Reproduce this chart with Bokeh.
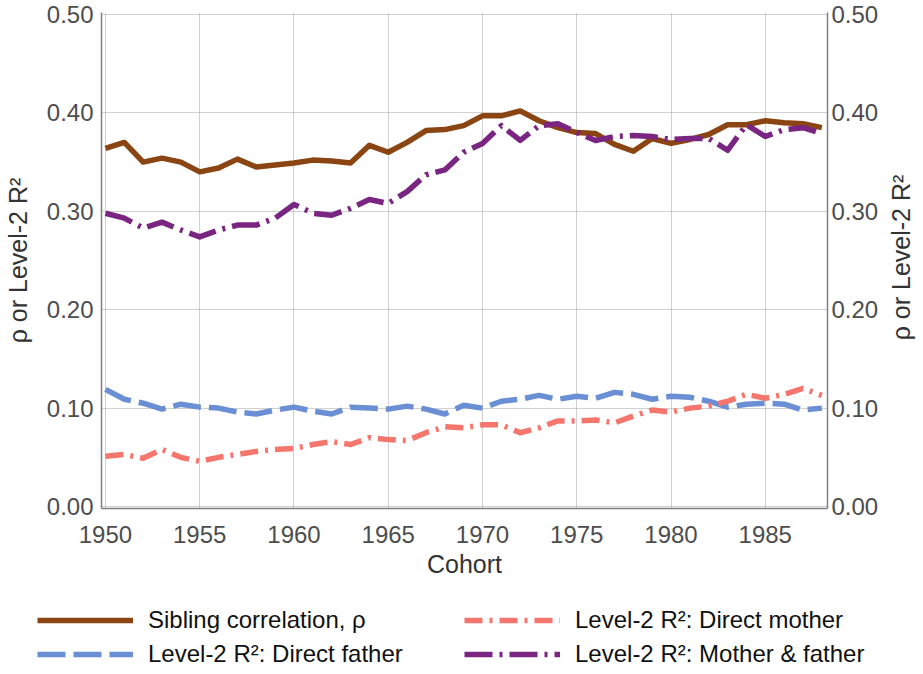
import math
from bokeh.plotting import figure
from bokeh.layouts import column, row
from bokeh.models import Legend, LegendItem, LinearAxis, FixedTicker, Range1d, Label
from bokeh.embed import file_html
from bokeh.resources import INLINE

years = list(range(1950, 1989))
sibling = [0.364, 0.370, 0.350, 0.354, 0.350, 0.340, 0.344, 0.353, 0.345, 0.347,
           0.349, 0.352, 0.351, 0.349, 0.367, 0.360, 0.370, 0.382, 0.383, 0.387,
           0.397, 0.397, 0.402, 0.392, 0.385, 0.380, 0.379, 0.368, 0.361, 0.374,
           0.369, 0.373, 0.378, 0.388, 0.388, 0.392, 0.390, 0.389, 0.385]
father = [0.119, 0.109, 0.105, 0.099, 0.104, 0.101, 0.100, 0.096, 0.094, 0.098,
          0.101, 0.097, 0.094, 0.101, 0.100, 0.099, 0.102, 0.099, 0.094, 0.103,
          0.100, 0.107, 0.109, 0.113, 0.109, 0.112, 0.110, 0.116, 0.114, 0.109,
          0.112, 0.111, 0.107, 0.101, 0.104, 0.105, 0.104, 0.098, 0.100]
mother = [0.051, 0.053, 0.049, 0.058, 0.050, 0.046, 0.050, 0.053, 0.056, 0.058,
          0.059, 0.063, 0.066, 0.063, 0.070, 0.068, 0.067, 0.075, 0.081, 0.080,
          0.083, 0.083, 0.075, 0.080, 0.087, 0.087, 0.088, 0.085, 0.092, 0.098,
          0.096, 0.100, 0.102, 0.107, 0.114, 0.110, 0.114, 0.120, 0.113]
both = [0.298, 0.293, 0.283, 0.289, 0.281, 0.274, 0.281, 0.286, 0.286, 0.293,
        0.307, 0.298, 0.296, 0.303, 0.312, 0.308, 0.320, 0.337, 0.342, 0.360,
        0.369, 0.387, 0.372, 0.387, 0.389, 0.380, 0.372, 0.376, 0.377, 0.376,
        0.373, 0.374, 0.374, 0.362, 0.388, 0.376, 0.383, 0.385, 0.379]

series_names = ["Sibling correlation, \u03c1",
                "Level-2 R\u00b2: Direct father",
                "Level-2 R\u00b2: Direct mother",
                "Level-2 R\u00b2: Mother & father"]
x_ticks = [1950, 1955, 1960, 1965, 1970, 1975, 1980, 1985]
y_ticks = [0.0, 0.1, 0.2, 0.3, 0.4, 0.5]
y_tick_labels = ["0.00", "0.10", "0.20", "0.30", "0.40", "0.50"]
x_title = "Cohort"
y_title = "\u03c1 or Level-2 R\u00b2"

FONT = "Liberation Sans"
TICK_COLOR = "#4d4d4d"
TITLE_COLOR = "#333333"

styles = [
    dict(color="#8b4513", dash="solid"),
    dict(color="#6a8fd4", dash="28 8"),
    dict(color="#f4766c", dash="18 7 3 7"),
    dict(color="#7b2583", dash="28 7 3 7"),
]
data = [sibling, father, mother, both]

# ---------------- main chart ----------------
P_TOP, P_BOTTOM, P_LEFT, P_RIGHT = 12, 84, 92, 57
FW, FH = 726, 496
p = figure(frame_width=FW, frame_height=FH,
           x_range=Range1d(1949.79, 1988.3), y_range=Range1d(-0.002, 0.502),
           output_backend="svg", toolbar_location=None,
           min_border_left=P_LEFT, min_border_right=P_RIGHT, min_border_top=P_TOP,
           min_border_bottom=P_BOTTOM)
p.outline_line_color = None

for vals, st in zip(data, styles):
    p.line(years, vals, line_color=st["color"], line_width=5.5,
           line_dash=st["dash"], line_cap="butt", line_join="round")

ylabels = {v: l for v, l in zip(y_ticks, y_tick_labels)}

p.add_layout(LinearAxis(), "right")
for ax in p.yaxis:
    ax.ticker = FixedTicker(ticks=y_ticks)
    ax.major_label_overrides = ylabels
p.yaxis[0].axis_label = y_title
for ax in p.xaxis:
    ax.ticker = FixedTicker(ticks=x_ticks)
    ax.axis_label = x_title

for ax in p.axis:
    ax.axis_line_color = "#808080"
    ax.axis_line_width = 1.5
    ax.major_tick_line_color = None
    ax.minor_tick_line_color = None
    ax.major_tick_out = 0
    ax.major_tick_in = 0
    ax.major_label_text_font = FONT
    ax.major_label_text_font_size = "24px"
    ax.major_label_text_color = TICK_COLOR
    ax.axis_label_text_font = FONT
    ax.axis_label_text_font_size = "25px"
    ax.axis_label_text_font_style = "normal"
    ax.axis_label_text_color = TITLE_COLOR

p.xaxis.major_label_standoff = 17
p.xaxis.axis_label_standoff = 4
p.yaxis[0].major_label_standoff = 8
p.yaxis[0].axis_label_standoff = 12
p.yaxis[1].major_label_standoff = 4

p.xgrid.ticker = FixedTicker(ticks=x_ticks)
p.ygrid.ticker = FixedTicker(ticks=y_ticks)
for g in (p.xgrid, p.ygrid):
    g.grid_line_color = "#a3a3a3"
    g.grid_line_dash = "1 1"
    g.grid_line_width = 1

P_W = P_LEFT + FW + P_RIGHT
P_H = P_TOP + FH + P_BOTTOM

# ---------------- right-hand axis title (frame is aligned with the main frame) ----------------
Q_W = 907 - P_W
q = figure(width=Q_W, height=P_H, x_range=Range1d(0, 1), y_range=Range1d(0, 1),
           output_backend="svg", toolbar_location=None, min_border=0)
q.axis.visible = False
q.grid.visible = False
q.outline_line_color = None
q.add_layout(Label(x=16, y=FH / 2 + 3,
                   x_units="screen", y_units="screen",
                   text=y_title, angle=math.pi / 2, text_align="center",
                   text_baseline="middle", text_font=FONT, text_font_size="25px",
                   text_color=TITLE_COLOR))

# ---------------- legend ----------------
L_H = 666 - P_H
lg = figure(width=907, height=L_H, x_range=Range1d(0, 1), y_range=Range1d(0, 1),
            output_backend="svg", toolbar_location=None, min_border=0)
lg.axis.visible = False
lg.grid.visible = False
lg.outline_line_color = None
legend_renderers = []
for vals, st in zip(data, styles):
    # series drawn outside this strip's visible range; only their legend keys show
    r = lg.line(years, vals, line_color=st["color"], line_width=5.5,
                line_dash=st["dash"], line_cap="butt")
    legend_renderers.append(r)
items = [LegendItem(label=n, renderers=[r]) for n, r in zip(series_names, legend_renderers)]
legend = Legend(items=items, ncols=2, location=(37, -3),
                glyph_width=96, glyph_height=28, label_standoff=15,
                label_width=312, label_height=30, spacing=4, padding=0, margin=0,
                label_text_font=FONT, label_text_font_size="24px",
                label_text_color="#111111",
                border_line_color=None, background_fill_alpha=0)
lg.add_layout(legend, "center")

layout = column(row(p, q, spacing=0), lg, spacing=0)
open("out.html", "w").write(file_html(layout, INLINE))
